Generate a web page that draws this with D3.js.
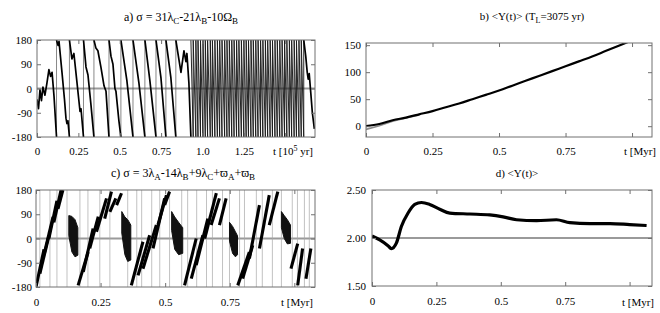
<!DOCTYPE html>
<html>
<head>
<meta charset="utf-8">
<script src="https://cdn.jsdelivr.net/npm/d3@7"></script>
<style>
  body { margin: 0; background: #fff; }
  text { font-family: "Liberation Serif", "Times New Roman", serif; font-size: 11px; fill: #000; }
</style>
</head>
<body>
<svg id="chart" width="660" height="313"></svg>
<script>
// ---- panel a: sigma = 31λC-21λB-10ΩB, t in 10^5 yr
const aTime = [0, 0.009, 0.018, 0.027, 0.036, 0.048, 0.060, 0.072, 0.082, 0.091, 0.103, 0.112, 0.118,
  0.118, 0.127, 0.133, 0.151, 0.166, 0.175, 0.181, 0.187, 0.196,
  0.196, 0.211, 0.223, 0.242, 0.254, 0.260, 0.266, 0.281,
  0.281, 0.296, 0.308, 0.326, 0.344,
  0.344, 0.356, 0.368, 0.386, 0.405, 0.417, 0.435,
  0.435, 0.447, 0.459, 0.471, 0.477, 0.495, 0.507,
  0.507, 0.543, 0.580,
  0.580, 0.616, 0.652,
  0.652, 0.682, 0.719,
  0.719, 0.749, 0.779,
  0.779, 0.809, 0.839,
  0.839, 0.870, 0.888, 0.900, 0.906, 0.918, 0.930];
const aSigma = [-40, -75, -5, -45, 5, -25, 20, 70, 45, 60, -30, -120, -180,
  180, 160, 175, 60, -40, -110, -130, -120, -180,
  180, 110, 130, 20, -50, -85, -75, -180,
  180, 80, 50, -60, -180,
  180, 150, 140, 80, 10, -10, -180,
  180, 120, 90, 0, -10, -120, -180,
  180, 30, -180,
  180, 20, -180,
  180, 30, -180,
  180, 40, -180,
  180, 40, -180,
  180, 60, 140, 100, 130, 20, -180];
// fast circulation: times where sigma wraps from -180 back to 180
const aFastWraps = [0.930, 0.944, 0.960, 0.973, 0.988, 1.003, 1.017, 1.031, 1.047, 1.060, 1.075, 1.090,
  1.104, 1.118, 1.134, 1.148, 1.162, 1.177, 1.191, 1.206, 1.220, 1.235, 1.250, 1.264, 1.278, 1.293,
  1.307, 1.322, 1.336, 1.351, 1.365, 1.380, 1.394, 1.409, 1.423, 1.438, 1.452, 1.467, 1.481, 1.496,
  1.510, 1.525, 1.539, 1.554, 1.568, 1.583, 1.597, 1.612];
const aEndTime = [1.612, 1.624, 1.633, 1.639, 1.645, 1.655, 1.664, 1.676];
const aEndSigma = [180, 120, 60, 35, 55, -20, -90, -150];
const aXTicks = [0, 0.25, 0.5, 0.75, 1.0, 1.25, 1.5];
const aXLabels = ['0', '0.25', '0.5', '0.75', '1.0', '1.25', ''];
const angTicks = [-180, -90, 0, 90, 180];

// ---- panel b: <Y(t)>, t in Myr
const bTime = [0, 0.05, 0.1, 0.15, 0.2, 0.25, 0.3, 0.35, 0.4, 0.45, 0.5, 0.55, 0.6, 0.65, 0.7, 0.75, 0.8, 0.85, 0.9, 0.95, 1.0];
const bMean = [0, 4, 11, 16, 22, 28, 35, 42, 50, 58, 66, 75, 84, 93, 102, 111, 120, 129, 139, 149, 159];
const bFitTime = [0, 0.05, 0.1, 0.15, 0.2];
const bFit = [-6, 1, 9, 15, 21];
const bYTicks = [0, 50, 100, 150];
const myrTicks = [0, 0.25, 0.5, 0.75, 1.0];
const myrLabels = ['0', '0.25', '0.5', '0.75', ''];

// ---- panel c: sigma = 3λA-14λB+9λC+ϖA+ϖB, t in Myr
// thick rising strokes [t0, sigma0, t1, sigma1]
const cStrokes = [
  [0.000, -180, 0.031, -40], [0.015, -130, 0.050, 10], [0.031, -60, 0.066, 80],
  [0.050, 0, 0.081, 140], [0.069, 60, 0.097, 180], [0.085, 110, 0.104, 180],
  [0.163, -174, 0.202, -50], [0.183, -124, 0.221, 37], [0.208, -37, 0.241, 81],
  [0.234, 25, 0.273, 149], [0.266, 74, 0.292, 174], [0.286, 99, 0.309, 149], [0.312, 124, 0.331, 168],
  [0.369, -174, 0.414, -12], [0.395, -137, 0.440, 12], [0.414, -112, 0.466, 50],
  [0.453, -37, 0.498, 149], [0.472, 50, 0.505, 161], [0.498, 124, 0.517, 174],
  [0.575, -174, 0.620, 0], [0.601, -149, 0.646, 12], [0.620, -99, 0.665, 74],
  [0.653, 0, 0.698, 168], [0.678, 50, 0.710, 149], [0.710, 50, 0.736, 149],
  [0.781, -174, 0.826, -50], [0.800, -149, 0.839, -25], [0.826, -74, 0.865, 124],
  [0.865, -37, 0.903, 161], [0.903, 50, 0.936, 174],
  [0.987, -112, 1.013, -19], [1.013, -174, 1.032, -37], [1.045, -149, 1.064, -37]
];
// libration patches: [t, upper, lower]
const cPatches = [
  [[0.127, 85, 10], [0.139, 82, -50], [0.151, 70, -68], [0.162, 40, -62]],
  [[0.332, 100, 20], [0.344, 80, -60], [0.355, 70, -85], [0.367, 50, -80]],
  [[0.525, 100, 30], [0.537, 80, -40], [0.552, 60, -60], [0.568, 40, -55]],
  [[0.749, 60, -10], [0.761, 45, -55], [0.772, 25, -68], [0.780, 10, -60]],
  [[0.950, 100, 40], [0.961, 85, 0], [0.973, 70, -20], [0.985, 50, -18]]
];
const cWraps = [0.015, 0.054, 0.081, 0.120, 0.170, 0.201, 0.247, 0.286, 0.355, 0.390, 0.409, 0.448,
  0.479, 0.517, 0.564, 0.587, 0.622, 0.660, 0.683, 0.722, 0.749, 0.788, 0.807, 0.853, 0.876,
  0.915, 0.950, 0.992, 1.012, 1.039, 1.058];

// ---- panel d: <Y(t)>
const dTime = [0, 0.03, 0.062, 0.075, 0.095, 0.114, 0.14, 0.166, 0.192, 0.224, 0.263, 0.302, 0.38,
  0.457, 0.509, 0.561, 0.639, 0.716, 0.768, 0.846, 0.924, 1.0, 1.066];
const dMean = [2.02, 1.98, 1.92, 1.89, 1.95, 2.12, 2.26, 2.35, 2.37, 2.35, 2.30, 2.26, 2.25,
  2.24, 2.22, 2.19, 2.18, 2.19, 2.16, 2.15, 2.15, 2.14, 2.13];
const dYTicks = [1.5, 2.0, 2.5];
const dYLabels = ['1.50', '2.00', '2.50'];

const svg = d3.select('#chart');
const gridGrey = '#9a9a9a';
const frameGrey = '#707070';

function panel(id, box, xDomain, yDomain) {
  const g = svg.append('g').attr('transform', `translate(${box.left},${box.top})`);
  g.append('clipPath').attr('id', 'clip-' + id)
    .append('rect').attr('width', box.width).attr('height', box.height);
  const x = d3.scaleLinear().domain(xDomain).range([0, box.width]);
  const y = d3.scaleLinear().domain(yDomain).range([box.height, 0]);
  const plot = g.append('g').attr('clip-path', `url(#clip-${id})`);
  return { id, g, plot, x, y, box };
}

function axes(p, xTicks, xLabels, yTicks, yLabels, xPad, yPad) {
  const { g, x, y, box } = p;
  const t = 4;
  const style = sel => {
    sel.select('.domain').remove();
    sel.selectAll('line').attr('stroke', frameGrey);
    sel.selectAll('text').style('font-size', '11px').attr('fill', '#000');
  };
  g.append('g').attr('transform', `translate(0,${box.height})`)
    .call(d3.axisBottom(x).tickValues(xTicks).tickFormat((d, i) => xLabels[i]).tickSizeInner(-t).tickSizeOuter(0).tickPadding(xPad))
    .call(style);
  g.append('g')
    .call(d3.axisTop(x).tickValues(xTicks).tickFormat('').tickSizeInner(-t).tickSizeOuter(0))
    .call(style);
  g.append('g')
    .call(d3.axisLeft(y).tickValues(yTicks).tickFormat((d, i) => yLabels[i]).tickSizeInner(-t).tickSizeOuter(0).tickPadding(yPad))
    .call(style);
  g.append('g').attr('transform', `translate(${box.width},0)`)
    .call(d3.axisRight(y).tickValues(yTicks).tickFormat('').tickSizeInner(-t).tickSizeOuter(0))
    .call(style);
}

function border(p) {
  p.g.append('rect').attr('width', p.box.width).attr('height', p.box.height)
    .attr('fill', 'none').attr('stroke', frameGrey).attr('stroke-width', 1);
}

function refLine(p, value) {
  p.plot.append('line')
    .attr('x1', 0).attr('x2', p.box.width)
    .attr('y1', p.y(value)).attr('y2', p.y(value))
    .attr('stroke', gridGrey).attr('stroke-width', 2);
}

// split a wrapped angle series into runs; the jumps are drawn as thin verticals
function wrappedSeries(p, pts, width, color, jumpWidth, jumpColor) {
  const runs = [[]];
  const jumps = [];
  pts.forEach((d, i) => {
    const prev = pts[i - 1];
    if (prev && prev[0] === d[0] && Math.abs(prev[1] - d[1]) >= 300) {
      jumps.push(d[0]);
      runs.push([]);
    }
    runs[runs.length - 1].push(d);
  });
  const line = d3.line().x(d => p.x(d[0])).y(d => p.y(d[1]));
  p.plot.append('g').selectAll('line').data(jumps).join('line')
    .attr('x1', d => p.x(d)).attr('x2', d => p.x(d))
    .attr('y1', p.y(180)).attr('y2', p.y(-180))
    .attr('stroke', jumpColor).attr('stroke-width', jumpWidth);
  p.plot.append('g').selectAll('path').data(runs).join('path')
    .attr('d', line).attr('fill', 'none').attr('stroke', color)
    .attr('stroke-width', width).attr('stroke-linejoin', 'round');
}

function rich(x, y, parts, anchor, size) {
  const base = size || 11;
  const t = svg.append('text').attr('x', x).attr('y', y).attr('text-anchor', anchor || 'middle');
  let shift = 0;
  parts.forEach(([s, k]) => {
    const want = k === 'sub' ? 3 : k === 'sup' ? -4 : 0;
    t.append('tspan').attr('dy', want - shift).style('font-size', (k ? base - 3 : base) + 'px').text(s);
    shift = want;
  });
}

// ===== panel a =====
const pa = panel('a', { left: 37, top: 40, width: 278, height: 97 }, [0, 1.68], [-180, 180]);
refLine(pa, 0);
const lineA = d3.line().x(d => pa.x(d[0])).y(d => pa.y(d[1]));
const fastPts = [];
aFastWraps.forEach((w, i) => {
  fastPts.push([w, 180]);
  if (i + 1 < aFastWraps.length) fastPts.push([aFastWraps[i + 1], -180]);
});
pa.plot.append('path').datum(fastPts).attr('d', lineA)
  .attr('fill', 'none').attr('stroke', '#1a1a1a').attr('stroke-width', 0.95);
wrappedSeries(pa, aTime.map((t, i) => [t, aSigma[i]]), 1.7, '#000', 0.7, '#555');
wrappedSeries(pa, aEndTime.map((t, i) => [t, aEndSigma[i]]), 1.7, '#000', 0.7, '#555');
axes(pa, aXTicks, aXLabels, angTicks, angTicks.map(String), 10, 5);
border(pa);

// ===== panel b =====
const pb = panel('b', { left: 366, top: 43, width: 286, height: 94 }, [0, 1.075], [-20, 154]);
const lineB = d3.line().x(d => pb.x(d[0])).y(d => pb.y(d[1]));
pb.plot.append('path').datum(bFitTime.map((t, i) => [t, bFit[i]])).attr('d', lineB)
  .attr('fill', 'none').attr('stroke', '#8a8a8a').attr('stroke-width', 1.6);
pb.plot.append('path').datum(bTime.map((t, i) => [t, bMean[i]])).attr('d', lineB.curve(d3.curveMonotoneX))
  .attr('fill', 'none').attr('stroke', '#000').attr('stroke-width', 2.2);
axes(pb, myrTicks, myrLabels, bYTicks, bYTicks.map(String), 10, 5);
border(pb);

// ===== panel c =====
const pc = panel('c', { left: 36, top: 190, width: 279, height: 97 }, [0, 1.08], [-180, 180]);
refLine(pc, 0);
pc.plot.selectAll('line.wrap').data(cWraps).join('line').attr('class', 'wrap')
  .attr('x1', d => pc.x(d)).attr('x2', d => pc.x(d))
  .attr('y1', pc.y(180)).attr('y2', pc.y(-180))
  .attr('stroke', '#a8a8a8').attr('stroke-width', 0.7);
const areaC = d3.area().x(d => pc.x(d[0])).y0(d => pc.y(d[2])).y1(d => pc.y(d[1]));
pc.plot.selectAll('path.patch').data(cPatches).join('path').attr('class', 'patch')
  .attr('d', areaC).attr('fill', '#111').attr('stroke', '#111').attr('stroke-width', 1);
pc.plot.selectAll('line.stroke').data(cStrokes).join('line').attr('class', 'stroke')
  .attr('x1', d => pc.x(d[0])).attr('y1', d => pc.y(d[1]))
  .attr('x2', d => pc.x(d[2])).attr('y2', d => pc.y(d[3]))
  .attr('stroke', '#000').attr('stroke-width', 3.1);
axes(pc, myrTicks, myrLabels, angTicks, angTicks.map(String), 11, 4);
border(pc);

// ===== panel d =====
const pd = panel('d', { left: 372, top: 190, width: 280, height: 96 }, [0, 1.087], [1.5, 2.5]);
refLine(pd, 2.0);
pd.plot.append('path').datum(dTime.map((t, i) => [t, dMean[i]]))
  .attr('d', d3.line().x(d => pd.x(d[0])).y(d => pd.y(d[1])).curve(d3.curveMonotoneX))
  .attr('fill', 'none').attr('stroke', '#000').attr('stroke-width', 3.2);
axes(pd, myrTicks, myrLabels, dYTicks, dYLabels, 11, 6);
border(pd);

// ===== titles and axis names =====
rich(181, 21, [['a) σ = 31λ', ''], ['C', 'sub'], ['-21λ', ''], ['B', 'sub'], ['-10Ω', ''], ['B', 'sub']], 'middle', 12);
rich(532, 20, [['b) <Υ(t)> (T', ''], ['L', 'sub'], ['=3075 yr)', '']]);
rich(183, 177, [['c) σ = 3λ', ''], ['A', 'sub'], ['-14λ', ''], ['B', 'sub'], ['+9λ', ''], ['C', 'sub'],
  ['+ϖ', ''], ['A', 'sub'], ['+ϖ', ''], ['B', 'sub']], 'middle', 12);
rich(517, 177, [['d) <Υ(t)>', '']]);
rich(293, 155, [['t [10', ''], ['5', 'sup'], [' yr]', '']]);
rich(640, 155, [['t [Myr]', '']]);
rich(297, 306, [['t [Myr]', '']]);
rich(638, 306, [['t [Myr]', '']]);
</script>
</body>
</html>
